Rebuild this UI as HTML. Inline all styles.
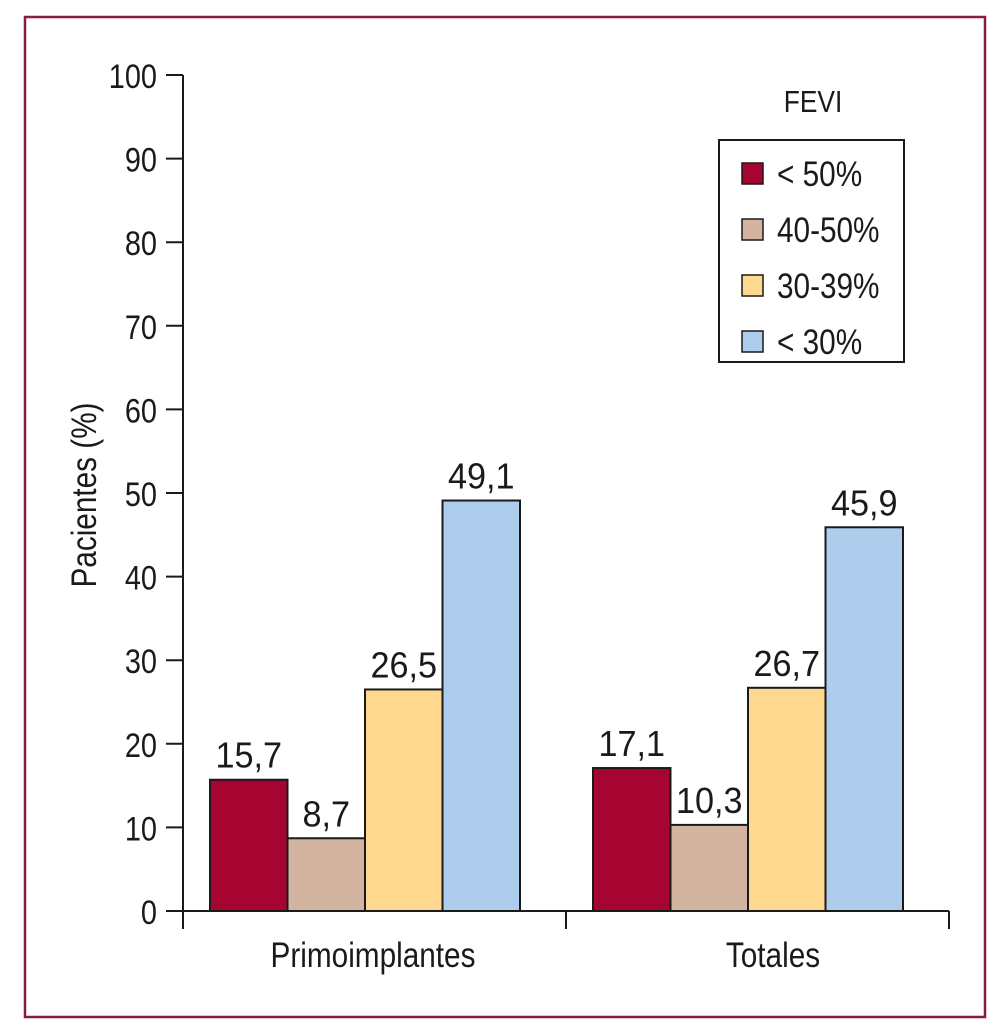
<!DOCTYPE html>
<html><head><meta charset="utf-8"><style>
html,body{margin:0;padding:0;background:#fff;}
svg{display:block;font-family:"Liberation Sans",sans-serif;}
</style></head><body>
<svg id="chart" width="1008" height="1033" viewBox="0 0 1008 1033" xmlns="http://www.w3.org/2000/svg">
<rect x="25" y="17" width="960" height="1000" fill="none" stroke="#8a1c3c" stroke-width="2.5"/>
<g id="plot"></g>
</svg>
<script>
const categories = ["Primoimplantes", "Totales"];
const seriesNames = ["< 50%", "40-50%", "30-39%", "< 30%"];
const seriesLt50 = [15.7, 17.1];
const series4050 = [8.7, 10.3];
const series3039 = [26.5, 26.7];
const seriesLt30 = [49.1, 45.9];
const valueLabels = [["15,7","17,1"],["8,7","10,3"],["26,5","26,7"],["49,1","45,9"]];
const yTicks = [0,10,20,30,40,50,60,70,80,90,100];
const colors = ["#a50530","#d2b4a0","#fdd88e","#aecdec"];

const NS="http://www.w3.org/2000/svg";
const g=document.getElementById('plot');
const X0=183, X1=949, Y0=911, Y1=75;
const y=v=>Y0-(v/100)*(Y0-Y1);
const bandW=(X1-X0)/categories.length;
const barW=77.5;
const xBar=(ci,si)=>X0+ci*bandW+27+si*barW;
const catLabelShift=[8,25];
function el(tag,attrs,parent){const e=document.createElementNS(NS,tag);for(const k in attrs)e.setAttribute(k,attrs[k]);(parent||g).appendChild(e);return e;}
function txt(s,x,yy,size,anchor,sx){const t=el('text',{transform:`translate(${x},${yy}) scale(${sx||0.85},1)`,'font-size':size,'text-anchor':anchor||'middle',fill:'#1a1a1a'});t.textContent=s;return t;}

const allSeries=[seriesLt50,series4050,series3039,seriesLt30];
allSeries.forEach((ser,si)=>{ser.forEach((v,ci)=>{
  const r=el('rect',{x:xBar(ci,si),y:y(v),width:barW,height:Y0-y(v),fill:colors[si],stroke:'#1a1a1a','stroke-width':2});
  
  
  const t=txt(valueLabels[si][ci],xBar(ci,si)+barW/2,y(v)-12,36,'middle',0.95);
  
  
});});
const ya=el('line',{x1:X0,y1:Y1,x2:X0,y2:Y0,stroke:'#1a1a1a','stroke-width':2});


yTicks.forEach(v=>{
  el('line',{x1:X0-17,y1:y(v),x2:X0,y2:y(v),stroke:'#1a1a1a','stroke-width':2});
  const t=txt(String(v),X0-26,y(v)+13,34,'end');
  
  
});
const xa=el('line',{x1:X0,y1:Y0,x2:X1,y2:Y0,stroke:'#1a1a1a','stroke-width':2});


for(let i=0;i<=categories.length;i++){el('line',{x1:X0+i*bandW,y1:Y0,x2:X0+i*bandW,y2:Y0+18,stroke:'#1a1a1a','stroke-width':2});}
categories.forEach((c,ci)=>{
  const t=txt(c,X0+27+ci*bandW+2*barW+catLabelShift[ci],967,35);
  
  
});
const yt=el('text',{transform:'translate(96,495) rotate(-90) scale(0.85,1)','font-size':35,'text-anchor':'middle',fill:'#1a1a1a'});
yt.textContent='Pacientes (%)';


const lt=txt('FEVI',813,112,31);


const lb=el('rect',{x:719,y:140,width:185,height:222,fill:'#fff',stroke:'#1a1a1a','stroke-width':2});


seriesNames.forEach((n,i)=>{
  const cy=173+i*56;
  const s=el('rect',{x:742,y:cy-10,width:21,height:21,fill:colors[i],stroke:'#1a1a1a','stroke-width':1.5});
  
  
  const t=txt(n,777,cy+13,35,'start');
  
  
});
</script>
</body></html>
